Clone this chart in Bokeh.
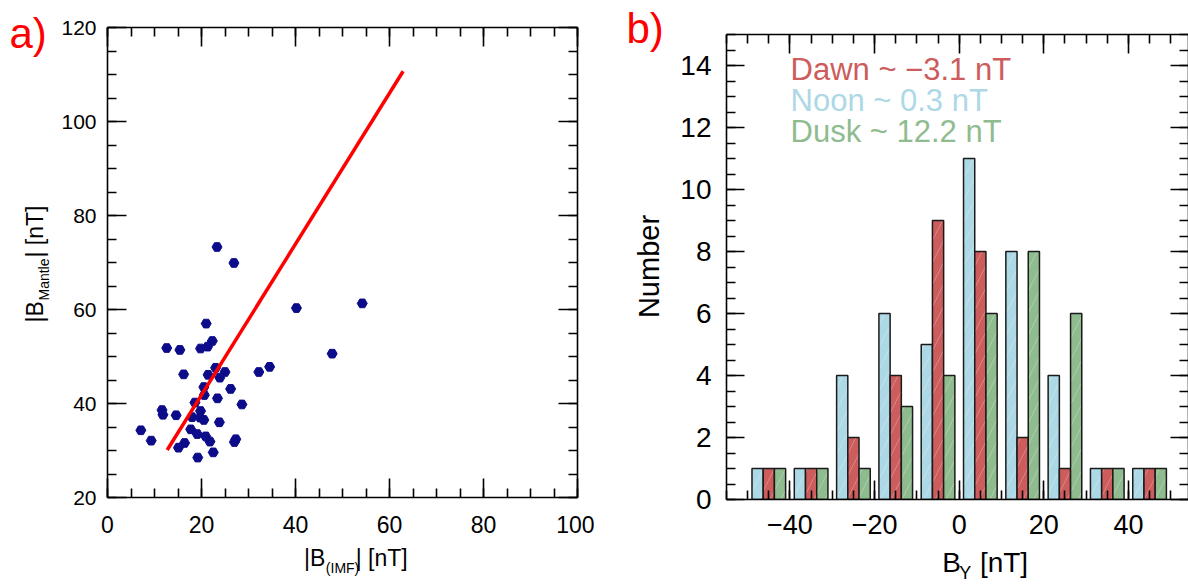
import numpy as np
from bokeh.plotting import figure
from bokeh.models import Range1d, LinearAxis, SingleIntervalTicker, Label, CustomJSTickFormatter
from bokeh.layouts import row, column
from bokeh.embed import file_html
from bokeh.resources import INLINE

FONT = "Liberation Sans"

# ---------------- data: panel a ----------------
imf_b = [23.3, 26.9, 40.2, 54.2, 21.0, 12.6, 15.4, 19.8, 21.3, 22.3, 47.8,
         23.0, 25.0, 32.2, 34.5, 16.2, 21.4, 23.9, 20.5, 26.2, 20.6, 23.4,
         18.6, 28.6, 11.6, 11.8, 14.6, 19.8, 18.0, 19.7, 20.5, 23.8, 7.1,
         17.7, 19.1, 20.9, 21.8, 27.3, 27.0, 9.3, 16.4, 15.1, 22.5, 19.2]
mantle_b = [73.3, 69.9, 60.3, 61.3, 57.0, 51.8, 51.4, 51.7, 52.1, 53.3, 50.6,
            47.6, 46.7, 46.7, 47.8, 46.2, 46.1, 45.5, 43.5, 43.1, 41.8, 41.1,
            40.2, 39.8, 38.6, 37.6, 37.5, 38.4, 37.1, 37.0, 36.5, 36.0, 34.3,
            34.5, 33.5, 33.0, 31.9, 32.4, 31.8, 32.1, 31.6, 30.6, 29.6, 28.5]
fit_x = [12.7, 62.9]
fit_y = [30.1, 110.7]

# ---------------- data: panel b ----------------
by_bin_centers = [-45, -35, -25, -15, -5, 5, 15, 25, 35, 45]
noon_counts = [1, 1, 4, 6, 5, 11, 8, 4, 1, 1]
dawn_counts = [1, 1, 2, 4, 9, 8, 2, 1, 1, 1]
dusk_counts = [1, 1, 1, 3, 4, 6, 8, 6, 1, 1]
legend_labels = ["Dawn ~ \u22123.1 nT", "Noon ~ 0.3 nT", "Dusk ~ 12.2 nT"]

C_DAWN = "#cd5c5c"
C_NOON = "#add8e6"
C_DUSK = "#8fbc8f"
H = 586


def style_axis(ax, interval, minor, font_size, standoff, labels=True,
               major_len=19, minor_len=9):
    ax.ticker = SingleIntervalTicker(interval=interval, num_minor_ticks=minor)
    ax.major_tick_in = major_len
    ax.major_tick_out = 0
    ax.minor_tick_in = minor_len
    ax.minor_tick_out = 0
    for attr in ("axis_line", "major_tick_line", "minor_tick_line"):
        setattr(ax, attr + "_color", "black")
        setattr(ax, attr + "_width", 1.6)
    ax.major_label_text_font = FONT
    ax.major_label_text_color = "black"
    ax.major_label_text_font_size = font_size
    ax.major_label_standoff = standoff
    if not labels:
        ax.formatter = CustomJSTickFormatter(code="return ''")
        ax.major_label_text_font_size = "0px"
        ax.major_label_standoff = 0


def clean(p):
    p.outline_line_color = None
    p.grid.visible = False
    p.background_fill_color = "white"
    p.border_fill_color = "white"


def strip(w, h):
    """A blank text strip whose data units are its own pixels (origin bottom-left)."""
    s = figure(width=w, height=h, x_range=Range1d(0, w), y_range=Range1d(0, h),
               output_backend="svg", toolbar_location=None,
               x_axis_location=None, y_axis_location=None,
               min_border=0, min_border_left=0, min_border_right=0,
               min_border_top=0, min_border_bottom=0)
    clean(s)
    return s


def lab(p, x, y, text, size, color="black", angle=0.0, align="left"):
    p.add_layout(Label(x=x, y=y, text=text, text_font=FONT, text_font_size=f"{size}px",
                       text_color=color, text_align=align, text_baseline="middle",
                       angle=angle))


MID = 0.355  # cap-centre above the baseline, in em

# ================= panel a =================
A_LEFT_W = 58
A_MAIN_W = 536
A_MAIN_H = 546
p1 = figure(width=A_MAIN_W, height=A_MAIN_H, x_range=Range1d(0, 100), y_range=Range1d(20, 120),
            output_backend="svg", toolbar_location=None,
            min_border_left=47, min_border_right=17, min_border_top=27, min_border_bottom=49)
clean(p1)
style_axis(p1.xaxis[0], 20, 4, "23px", 18)
style_axis(p1.yaxis[0], 20, 4, "21px", 11)
top1 = LinearAxis()
right1 = LinearAxis()
style_axis(top1, 20, 4, "0px", 0, labels=False)
style_axis(right1, 20, 4, "0px", 0, labels=False)
p1.add_layout(top1, "above")
p1.add_layout(right1, "right")

p1.scatter(imf_b, mantle_b, marker="hex", size=10, fill_color="#0c0c8a",
           line_color="#0c0c8a")
p1.line(fit_x, fit_y, line_color="#ff0000", line_width=3.5)

# left strip: panel tag and y title |B_Mantle| [nT]   (canvas baseline -> anchor)
sa_left = strip(A_LEFT_W, H)
lab(sa_left, 9, H - (48 - MID * 42), "a)", 42, color="#ff0000")
lab(sa_left, 43 - MID * 23, H - 322, "|B", 23, angle=np.pi / 2)
lab(sa_left, 48 - MID * 14, H - 300, "Mantle", 14, angle=np.pi / 2)
lab(sa_left, 43 - MID * 23, H - 257, "| [nT]", 23, angle=np.pi / 2)

# bottom strip: x title |B(IMF)| [nT]
A_BOT_H = H - A_MAIN_H
sa_bot = strip(A_MAIN_W, A_BOT_H)
ox = A_LEFT_W
lab(sa_bot, 282 - ox, H - (566 - MID * 23), "|B", 23)
lab(sa_bot, 307 - ox, H - (572 - MID * 14), "(IMF)", 14)
lab(sa_bot, 341 - ox, H - (566 - MID * 23), "| [nT]", 23)

# ================= panel b =================
B_LEFT_W = 78
B_MAIN_W = 516
B_MAIN_H = 548
p2 = figure(width=B_MAIN_W, height=B_MAIN_H, x_range=Range1d(-55, 54.2), y_range=Range1d(0, 15),
            output_backend="svg", toolbar_location=None,
            min_border_left=54, min_border_right=0, min_border_top=34, min_border_bottom=49)
clean(p2)
style_axis(p2.xaxis[0], 20, 4, "27px", 15)
style_axis(p2.yaxis[0], 2, 4, "28px", 15, major_len=18)
top2 = LinearAxis()
right2 = LinearAxis()
style_axis(top2, 20, 4, "0px", 0, labels=False)
style_axis(right2, 2, 4, "0px", 0, labels=False, major_len=18)
p2.add_layout(top2, "above")
p2.add_layout(right2, "right")

bw = 2.65
centers = np.array(by_bin_centers, dtype=float)
for offset, counts, col in ((-bw, noon_counts, C_NOON), (0.0, dawn_counts, C_DAWN),
                            (bw, dusk_counts, C_DUSK)):
    p2.vbar(x=centers + offset, top=counts, bottom=0, width=bw, fill_color=col,
            line_color="#1a1a1a", line_width=1.5,
            hatch_pattern="/", hatch_color="white", hatch_alpha=0.25,
            hatch_scale=22, hatch_weight=1)

B_X0 = A_LEFT_W + A_MAIN_W + B_LEFT_W   # canvas x of panel-b main figure


def xd2(px):
    return -55 + (px - 726) / 4.23


def yd2(py):
    return (499 - py) / 31


for txt, col, base in zip(legend_labels, (C_DAWN, C_NOON, C_DUSK), (80, 111, 142)):
    lab(p2, xd2(790), yd2(base - MID * 31), txt, 31, color=col)

# left strip: panel tag and y title
sb_left = strip(B_LEFT_W, H)
bx = A_LEFT_W + A_MAIN_W
lab(sb_left, 626 - bx, H - (43 - MID * 42), "b)", 42, color="#ff0000")
lab(sb_left, 659 - MID * 29 - bx, H - 266, "Number", 29, angle=np.pi / 2, align="center")

# bottom strip: x title B_Y [nT]
B_BOT_H = H - B_MAIN_H
sb_bot = strip(B_MAIN_W, B_BOT_H)
lab(sb_bot, 913 - B_X0, H - (572 - MID * 28), "B", 28)
lab(sb_bot, 932 - B_X0, H - (579 - MID * 18), "Y", 18)
lab(sb_bot, 955 - B_X0, H - (572 - MID * 28), "[nT]", 28)

layout = row(sa_left, column(p1, sa_bot), sb_left, column(p2, sb_bot))
open("out.html", "w").write(file_html(layout, INLINE))
